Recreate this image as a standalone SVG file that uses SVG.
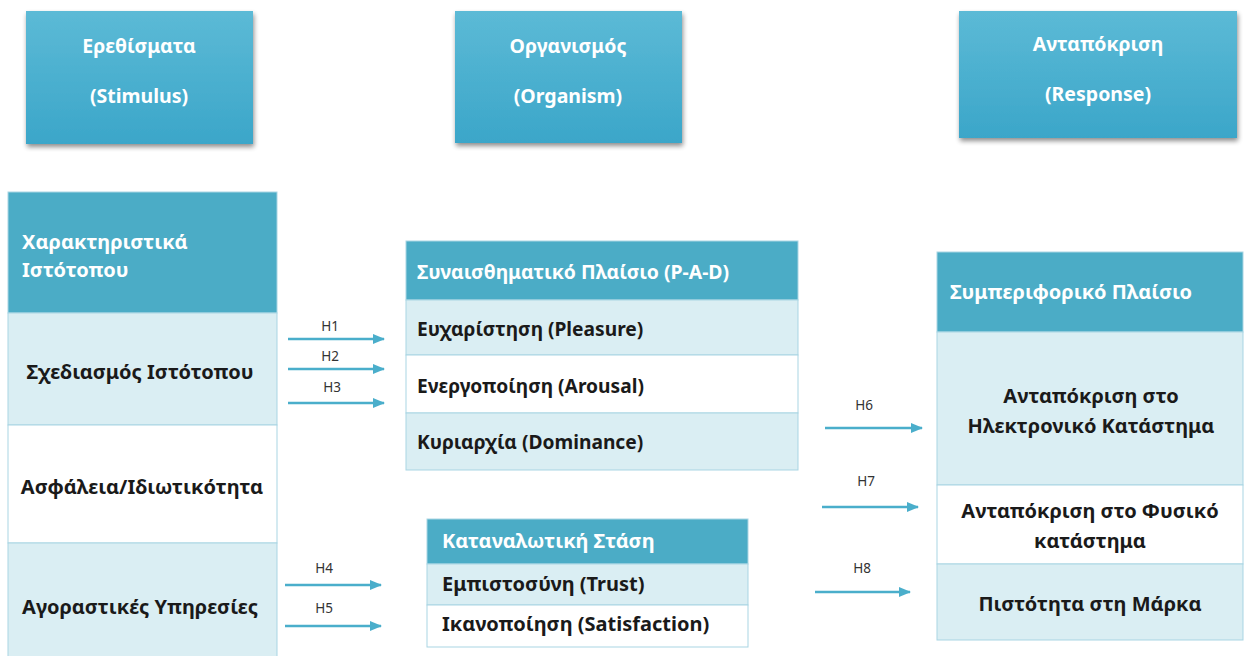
<svg xmlns="http://www.w3.org/2000/svg" width="1244" height="656" viewBox="0 0 1244 656">
  <defs>
    <linearGradient id="capFill" x1="0" y1="0" x2="0" y2="1">
      <stop offset="0" stop-color="#5cbad6"/>
      <stop offset="1" stop-color="#3ba6c9"/>
    </linearGradient>
    <filter id="capShadow" x="-10%" y="-10%" width="125%" height="130%">
      <feGaussianBlur in="SourceAlpha" stdDeviation="2.5"/>
      <feOffset dx="1" dy="3" result="blur"/>
      <feComponentTransfer><feFuncA type="linear" slope="0.45"/></feComponentTransfer>
      <feMerge><feMergeNode/><feMergeNode in="SourceGraphic"/></feMerge>
    </filter>
    <marker id="arrowHead" markerWidth="12" markerHeight="10" refX="11" refY="5" orient="auto" markerUnits="userSpaceOnUse">
      <path d="M0,0 L12,5 L0,10 Z" fill="#4aaecb"/>
    </marker>
  </defs>
  <style>
    text { font-family: "Noto Sans", "Open Sans", "DejaVu Sans", sans-serif; font-weight: bold; }
    .cap { fill: url(#capFill); filter: url(#capShadow); }
    .capText { fill: #ffffff; font-size: 19.5px; text-anchor: middle; }
    .head { fill: #4bacc6; stroke: #a9d5e3; stroke-width: 1; }
    .light { fill: #daeef3; stroke: #a9d5e3; stroke-width: 1; }
    .white { fill: #ffffff; stroke: #a9d5e3; stroke-width: 1; }
    .headText { fill: #ffffff; font-size: 20px; }
    .rowText { fill: #1a1a1a; font-size: 20px; }
    .pad .headText { font-size: 19.4px; }
    .pad .rowText { font-size: 19.2px; }
    .mid { text-anchor: middle; }
    .link { stroke: #4aaecb; stroke-width: 2.5; fill: none; marker-end: url(#arrowHead); }
    .hLabel { fill: #333333; font-size: 13.5px; font-weight: normal; text-anchor: middle; }
  </style>

  <rect width="1244" height="656" fill="#ffffff"/>

  <!-- S-O-R captions -->
  <g id="stimulus">
    <rect class="cap" x="26" y="11" width="227" height="133"/>
    <text class="capText" x="139" y="53">Ερεθίσματα</text>
    <text class="capText" x="139" y="103">(Stimulus)</text>
  </g>
  <g id="organism">
    <rect class="cap" x="455" y="11" width="227" height="132"/>
    <text class="capText" x="568" y="53">Οργανισμός</text>
    <text class="capText" x="568" y="103">(Organism)</text>
  </g>
  <g id="response">
    <rect class="cap" x="959" y="11" width="278" height="127"/>
    <text class="capText" x="1098" y="51">Ανταπόκριση</text>
    <text class="capText" x="1098" y="101">(Response)</text>
  </g>

  <!-- Website characteristics -->
  <g id="website">
    <rect class="head" x="8" y="192" width="269" height="121"/>
    <text class="headText" x="22" y="249">Χαρακτηριστικά</text>
    <text class="headText" x="22" y="277">Ιστότοπου</text>
    <rect class="light" x="8" y="313" width="269" height="112"/>
    <text class="rowText mid" x="140" y="379">Σχεδιασμός Ιστότοπου</text>
    <rect class="white" x="8" y="425" width="269" height="118"/>
    <text class="rowText mid" x="142" y="494">Ασφάλεια/Ιδιωτικότητα</text>
    <rect class="light" x="8" y="543" width="269" height="120"/>
    <text class="rowText mid" x="140" y="614">Αγοραστικές Υπηρεσίες</text>
  </g>

  <!-- Emotional frame (P-A-D) -->
  <g id="pad" class="pad">
    <rect class="head" x="406" y="241" width="392" height="59"/>
    <text class="headText" x="417" y="279">Συναισθηματικό Πλαίσιο (P-A-D)</text>
    <rect class="light" x="406" y="300" width="392" height="55"/>
    <text class="rowText" x="417" y="336">Ευχαρίστηση (Pleasure)</text>
    <rect class="white" x="406" y="355" width="392" height="58"/>
    <text class="rowText" x="417" y="393">Ενεργοποίηση (Arousal)</text>
    <rect class="light" x="406" y="413" width="392" height="57"/>
    <text class="rowText" x="417" y="449">Κυριαρχία (Dominance)</text>
  </g>

  <!-- Consumer attitude -->
  <g id="attitude">
    <rect class="head" x="427" y="519" width="321" height="45"/>
    <text class="headText" x="442" y="548">Καταναλωτική Στάση</text>
    <rect class="light" x="427" y="564" width="321" height="41"/>
    <text class="rowText" x="442" y="591">Εμπιστοσύνη (Trust)</text>
    <rect class="white" x="427" y="605" width="321" height="42"/>
    <text class="rowText" x="442" y="631">Ικανοποίηση (Satisfaction)</text>
  </g>

  <!-- Behavioural frame -->
  <g id="behaviour">
    <rect class="head" x="937" y="252" width="306" height="80"/>
    <text class="headText" x="950" y="299">Συμπεριφορικό Πλαίσιο</text>
    <rect class="light" x="937" y="332" width="306" height="153"/>
    <text class="rowText mid" x="1091" y="403">Ανταπόκριση στο</text>
    <text class="rowText mid" x="1091" y="433">Ηλεκτρονικό Κατάστημα</text>
    <rect class="white" x="937" y="485" width="306" height="79"/>
    <text class="rowText mid" x="1090" y="518">Ανταπόκριση στο Φυσικό</text>
    <text class="rowText mid" x="1090" y="548">κατάστημα</text>
    <rect class="light" x="937" y="564" width="306" height="76"/>
    <text class="rowText mid" x="1090" y="611">Πιστότητα στη Μάρκα</text>
  </g>

  <!-- Hypothesis connectors -->
  <g id="connectors">
    <line class="link" x1="288" y1="339" x2="384" y2="339"/>
    <line class="link" x1="288" y1="369" x2="384" y2="369"/>
    <line class="link" x1="288" y1="403" x2="384" y2="403"/>
    <line class="link" x1="285" y1="585" x2="381" y2="585"/>
    <line class="link" x1="285" y1="626" x2="381" y2="626"/>
    <line class="link" x1="825" y1="428" x2="922" y2="428"/>
    <line class="link" x1="822" y1="507" x2="918" y2="507"/>
    <line class="link" x1="815" y1="592" x2="910" y2="592"/>
    <text class="hLabel" x="330" y="331">H1</text>
    <text class="hLabel" x="330" y="361">H2</text>
    <text class="hLabel" x="332" y="392">H3</text>
    <text class="hLabel" x="324" y="573">H4</text>
    <text class="hLabel" x="324" y="613">H5</text>
    <text class="hLabel" x="864" y="410">H6</text>
    <text class="hLabel" x="866" y="486">H7</text>
    <text class="hLabel" x="862" y="573">H8</text>
  </g>
</svg>
